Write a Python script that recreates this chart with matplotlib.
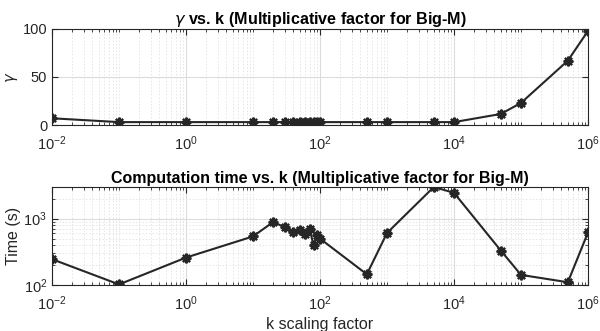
import matplotlib
matplotlib.use("Agg")
import matplotlib.pyplot as plt
from matplotlib.ticker import LogLocator, NullFormatter, FixedLocator

# k scaling factor values
k_values = [0.01, 0.1, 1, 10, 20, 30, 40, 50, 60, 70, 80, 90, 100,
            500, 1000, 5000, 10000, 50000, 100000, 500000, 1000000]

# gamma for each k
gamma = [7, 3, 3, 3, 3, 3, 3, 3, 3, 3, 3, 3, 3,
         3, 3, 3, 3, 11.5, 23, 67, 98]

# computation time (s) for each k
comp_time = [245, 102, 259, 540, 890, 740, 640, 665, 595, 705, 400, 570, 500,
             145, 608, 3000, 2450, 330, 142, 110, 620]

plt.rcParams["font.family"] = ["Liberation Sans", "DejaVu Sans"]
plt.rcParams["font.size"] = 10.5

axis_color = "#262626"
line_color = "#262626"
asterisk = (8, 2, 0)


def style_axes(ax):
    ax.set_xscale("log")
    ax.set_xlim(1e-2, 1e6)
    ax.xaxis.set_major_locator(FixedLocator([1e-2, 1e0, 1e2, 1e4, 1e6]))
    ax.xaxis.set_minor_locator(LogLocator(base=10, subs="all", numticks=100))
    ax.xaxis.set_minor_formatter(NullFormatter())
    ax.grid(True, which="major", color="#dcdcdc", linewidth=0.8)
    ax.grid(True, which="minor", color="#e3e3e3", linewidth=0.6, linestyle=(0, (2, 2)))
    ax.tick_params(which="both", direction="in", top=True, right=True,
                   colors=axis_color, labelcolor=axis_color)
    ax.tick_params(which="major", length=4, labelsize=10.5)
    ax.tick_params(which="minor", length=2)
    ax.tick_params(axis="y", pad=3.5)
    ax.tick_params(axis="x", pad=7)
    for s in ax.spines.values():
        s.set_color(axis_color)
        s.set_linewidth(0.8)
    ax.set_axisbelow(True)


fig = plt.figure(figsize=(6.0, 3.31), dpi=100)
ax1 = fig.add_axes([52 / 600, 1 - 125 / 331, 536 / 600, 96 / 331])
ax2 = fig.add_axes([52 / 600, 1 - 285 / 331, 536 / 600, 98 / 331])

# top: gamma vs k
ax1.plot(k_values, gamma, "-", marker=asterisk, color=line_color, linewidth=1.5,
         markersize=7, markeredgewidth=1.6)
style_axes(ax1)
ax1.set_ylim(0, 100)
ax1.set_yticks([0, 50, 100])
ax1.set_ylabel(r"$\gamma$", color=axis_color, labelpad=2)
ax1.set_title(r"$\gamma$ vs. k (Multiplicative factor for Big-M)",
              fontweight="bold", fontsize=11.6, color="black", pad=3)

# bottom: computation time vs k
ax2.plot(k_values, comp_time, "-", marker=asterisk, color=line_color, linewidth=1.5,
         markersize=7, markeredgewidth=1.6)
style_axes(ax2)
ax2.set_yscale("log")
ax2.set_ylim(100, 3000)
ax2.yaxis.set_major_locator(FixedLocator([1e2, 1e3]))
ax2.yaxis.set_minor_locator(LogLocator(base=10, subs="all", numticks=100))
ax2.yaxis.set_minor_formatter(NullFormatter())
ax2.tick_params(axis="y", which="both", direction="in", right=True)
ax2.set_ylabel("Time (s)", color=axis_color, fontsize=11.5, labelpad=2)
ax2.set_xlabel("k scaling factor", color=axis_color, fontsize=11.5, labelpad=3)
ax2.set_title("Computation time vs. k (Multiplicative factor for Big-M)",
              fontweight="bold", fontsize=11.5, color="black", pad=3)

fig.savefig("out.png", dpi=100)
